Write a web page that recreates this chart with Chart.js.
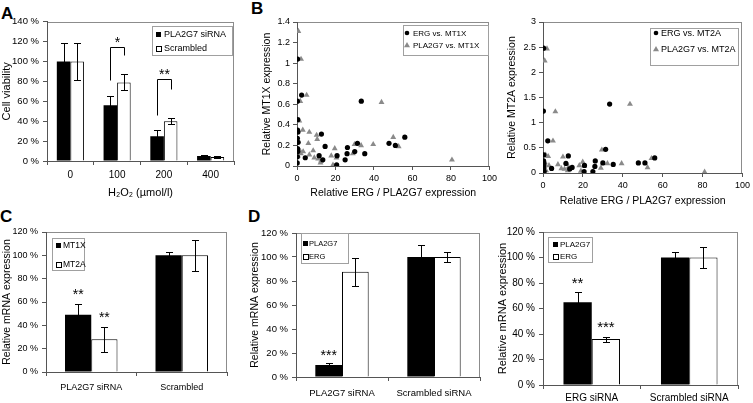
<!DOCTYPE html>
<html>
<head>
<meta charset="utf-8">
<script src="https://cdn.jsdelivr.net/npm/chart.js@4.4.1/dist/chart.umd.min.js"></script>
<style>
  body { margin: 0; background: #fff; width: 753px; height: 403px; position: relative; overflow: hidden;
         font-family: "Liberation Sans", Arial, sans-serif; }
  canvas { position: absolute; }
  .lab { position: absolute; font-weight: bold; font-size: 17px; line-height: 17px; }
</style>
</head>
<body>
<div class="lab" style="left:1px;top:5px">A</div>
<div class="lab" style="left:251px;top:0px">B</div>
<div class="lab" style="left:0px;top:208px">C</div>
<div class="lab" style="left:248px;top:208px">D</div>
<canvas id="chartA"></canvas>
<canvas id="chartB1"></canvas>
<canvas id="chartB2"></canvas>
<canvas id="chartC"></canvas>
<canvas id="chartD1"></canvas>
<canvas id="chartD2"></canvas>
<script>
// ---- data ----
// A: cell viability after H2O2
const doses = ['0', '100', '200', '400'];
const viabSiRNA = [100, 56, 25, 5];
const viabSiRNAErr = [19, 9, 6, 1];
const viabScr = [100, 79, 40, 4];
const viabScrErr = [18.5, 8, 3, 0.8];

// B: scatter, ERG (same samples for both panels) and PLA2G7
const ergX    = [0.3, 0.2, 2.4, 0.4, 0.3, 0.5, 0.2, 0.6, 0.3, 0.4, 0.2, 0.1, 4.3, 12.7, 11.5, 13.4, 14.6, 20.6, 20.8, 25.0, 26.0, 26.2, 30.0, 31.4, 33.4, 35.2, 47.8, 51.1, 56.0];
const ergMT1X = [1.04, 0.63, 0.69, 0.45, 0.35, 0.33, 0.27, 0.23, 0.17, 0.14, 0.09, 0.03, 0.08, 0.31, 0.10, 0.06, 0.19, 0.01, 0.10, 0.06, 0.12, 0.18, 0.14, 0.22, 0.63, 0.12, 0.22, 0.20, 0.28];
const ergMT2A = [2.48, 1.23, 0.64, 0.36, 0.24, 0.17, 0.09, 0.03, 0.20, 0.12, 0.06, 0.00, 0.09, 0.34, 0.19, 0.08, 0.11, 0.03, 0.15, 0.03, 0.13, 0.24, 0.20, 0.47, 1.37, 0.17, 0.20, 0.20, 0.30];

const plaX1   = [0.7, 2.1, 5.0, 1.7, 1.2, 3.0, 6.4, 10.2, 10.5, 5.9, 1.5, 3.2, 8.4, 6.4, 9.0, 12.5, 12.2, 17.8, 19.6, 18.7, 20.5, 29.9, 29.0, 33.3, 39.6, 43.9, 50.0, 52.8, 80.5, 0.5, 2.0, 11.0];
const plaMT1X = [1.31, 1.04, 0.69, 0.63, 0.44, 0.35, 0.33, 0.30, 0.26, 0.22, 0.15, 0.14, 0.15, 0.11, 0.08, 0.05, 0.03, 0.10, 0.17, 0.01, 0.08, 0.21, 0.12, 0.20, 0.21, 0.62, 0.28, 0.19, 0.06, 0.10, 0.12, 0.07];
const plaX2   = [0.85, 2.0, 6.2, 5.0, 1.3, 2.6, 0.9, 10.0, 7.5, 9.2, 10.8, 12.4, 18.2, 19.9, 20.7, 19.0, 29.5, 29.0, 32.3, 39.4, 43.6, 54.4, 52.4, 81.0, 3.0, 1.5, 12.8];
const plaMT2A = [2.23, 2.47, 1.22, 0.64, 0.36, 0.33, 0.22, 0.32, 0.17, 0.09, 0.08, 0.05, 0.15, 0.22, 0.14, 0.04, 0.46, 0.10, 0.19, 0.19, 1.37, 0.29, 0.11, 0.02, 0.15, 0.05, 0.12];

// C: MT1X / MT2A after PLA2G7 knock-down
const groupsC = ['PLA2G7 siRNA', 'Scrambled'];
const mt1xC = [49, 100];
const mt1xErrC = [9, 3];
const mt2aC = [28, 100];
const mt2aErrC = [11, 13.5];

// D: PLA2G7 / ERG knock-downs
const groupsD1 = ['PLA2G7 siRNA', 'Scrambled siRNA'];
const pla2g7D1 = [10, 100];
const pla2g7ErrD1 = [1.7, 10];
const ergD1 = [87.7, 100];
const ergErrD1 = [11.7, 4.5];

const groupsD2 = ['ERG siRNA', 'Scrambled siRNA'];
const pla2g7D2 = [65, 100];
const pla2g7ErrD2 = [8.3, 4];
const ergD2 = [36, 100];
const ergErrD2 = [2, 8.5];

// ---- plugins ----
const FONT = '"Liberation Sans", Arial, sans-serif';
Chart.defaults.font.family = FONT;
Chart.defaults.color = '#000';

// gray box round the plot area (drawn before the axes)
const frame = {
  id: 'frame',
  beforeDraw(chart) {
    const a = chart.chartArea, ctx = chart.ctx;
    ctx.save();
    ctx.strokeStyle = '#8c8c8c';
    ctx.lineWidth = 1;
    ctx.strokeRect(Math.round(a.left) + 0.5, Math.round(a.top) + 0.5, Math.round(a.right - a.left) - 1, Math.round(a.bottom - a.top));
    ctx.restore();
  }
};

const errBars = {
  id: 'errBars',
  afterDatasetsDraw(chart) {
    const ctx = chart.ctx, y = chart.scales.y;
    ctx.save();
    ctx.strokeStyle = '#000';
    ctx.lineWidth = 1;
    chart.data.datasets.forEach((ds, di) => {
      if (!ds.errors) return;
      chart.getDatasetMeta(di).data.forEach((bar, i) => {
        const v = ds.data[i], e = ds.errors[i];
        const x = Math.round(bar.x) + 0.5;
        const t = Math.round(y.getPixelForValue(v + e)) + 0.5;
        const b = Math.round(y.getPixelForValue(v - e)) + 0.5;
        ctx.beginPath();
        ctx.moveTo(x, t); ctx.lineTo(x, b);
        ctx.moveTo(x - 3.5, t); ctx.lineTo(x + 3.5, t);
        ctx.moveTo(x - 3.5, b); ctx.lineTo(x + 3.5, b);
        ctx.stroke();
      });
    });
    ctx.restore();
  }
};

// significance stars and brackets, placed in data units
const marks = {
  id: 'marks',
  afterDatasetsDraw(chart, args, opts) {
    if (!opts.items) return;
    const ctx = chart.ctx, y = chart.scales.y;
    const size = opts.size || 14;
    ctx.save();
    ctx.strokeStyle = '#000';
    ctx.fillStyle = '#000';
    ctx.lineWidth = 1;
    ctx.font = size + 'px ' + FONT;
    ctx.textAlign = 'center';
    ctx.textBaseline = 'alphabetic';
    opts.items.forEach(m => {
      let cx;
      if (m.bracket) {
        const x1 = Math.round(chart.getDatasetMeta(0).data[m.i].x) + 0.5;
        const x2 = Math.round(chart.getDatasetMeta(1).data[m.i].x) + 0.5;
        const [b1, bt, b2] = m.bracket.map(v => Math.round(y.getPixelForValue(v)) + 0.5);
        ctx.beginPath();
        ctx.moveTo(x1, b1); ctx.lineTo(x1, bt); ctx.lineTo(x2, bt); ctx.lineTo(x2, b2);
        ctx.stroke();
        cx = (x1 + x2) / 2;
      } else {
        cx = chart.getDatasetMeta(m.ds).data[m.i].x;
      }
      ctx.fillText(m.text, cx, y.getPixelForValue(m.at) + size * 0.57);
    });
    ctx.restore();
  }
};

// boxed legend like the spreadsheet one; coordinates are page pixels
const boxLegend = {
  id: 'boxLegend',
  afterDraw(chart, args, o) {
    if (!o.items) return;
    const ctx = chart.ctx;
    const ox = parseFloat(chart.canvas.style.left), oy = parseFloat(chart.canvas.style.top);
    const x = o.box[0] - ox, y = o.box[1] - oy, w = o.box[2] - o.box[0], h = o.box[3] - o.box[1];
    ctx.save();
    ctx.fillStyle = '#fff';
    ctx.fillRect(x, y, w, h);
    ctx.strokeStyle = '#a0a0a0';
    ctx.lineWidth = 1;
    ctx.strokeRect(Math.round(x) + 0.5, Math.round(y) + 0.5, Math.round(w), Math.round(h));
    ctx.font = o.size + 'px ' + FONT;
    ctx.textBaseline = 'middle';
    o.items.forEach((it, k) => {
      const cy = o.rows[k] - oy, mx = o.markX - ox;
      ctx.fillStyle = '#000';
      ctx.strokeStyle = '#000';
      if (it.mark === 'fill') {
        ctx.fillRect(Math.round(mx - 2.5), Math.round(cy - 2.5), 5, 5);
      } else if (it.mark === 'empty') {
        ctx.strokeRect(Math.round(mx - 2.5) + 0.5, Math.round(cy - 2.5) + 0.5, 5, 5);
      } else if (it.mark === 'circle') {
        ctx.beginPath(); ctx.arc(mx, cy, 2.3, 0, Math.PI * 2); ctx.fill();
      } else if (it.mark === 'triangle') {
        ctx.fillStyle = '#8a8a8a';
        ctx.beginPath(); ctx.moveTo(mx, cy - 3); ctx.lineTo(mx + 3, cy + 2.3); ctx.lineTo(mx - 3, cy + 2.3); ctx.closePath(); ctx.fill();
      }
      ctx.fillStyle = '#000';
      ctx.fillText(it.label, o.textX - ox, cy + 0.5);
    });
    ctx.restore();
  }
};

Chart.register(frame, errBars, marks, boxLegend);

// ---- helpers ----
function axis(opts) {
  const ax = {
    type: opts.type || 'linear',
    ticks: { autoSkip: false, maxRotation: 0, font: { size: opts.tick }, padding: opts.pad, color: '#000' },
    grid: { display: true, drawOnChartArea: false, drawTicks: true, tickLength: 4, color: '#555' },
    border: { display: true, color: '#555' },
    title: { display: !!opts.title, text: opts.title || '', font: { size: opts.tsize || 10 }, padding: 0, color: '#000' }
  };
  if (opts.min !== undefined) { ax.min = opts.min; ax.max = opts.max; }
  if (opts.step) ax.ticks.stepSize = opts.step;
  if (opts.fmt) ax.ticks.callback = opts.fmt;
  return ax;
}

// box / area are page pixels: [left, top, right, bottom]
function place(id, box, area, cfg) {
  const cv = document.getElementById(id);
  const w = box[2] - box[0], h = box[3] - box[1];
  cv.width = w; cv.height = h;
  cv.style.left = box[0] + 'px'; cv.style.top = box[1] + 'px';
  cv.style.width = w + 'px'; cv.style.height = h + 'px';
  const o = cfg.options;
  o.responsive = false;
  o.animation = false;
  o.devicePixelRatio = 1;
  o.layout = { padding: { left: 0, bottom: 0, top: area[1] - box[1], right: box[2] - area[2] } };
  o.scales.y.afterFit = s => { s.width = area[0] - box[0]; };
  o.scales.x.afterFit = s => { s.height = box[3] - area[3]; };
  o.plugins.legend = { display: false };
  o.plugins.tooltip = { enabled: false };
  return new Chart(cv, cfg);
}

const pct = v => v + ' %';
const dec = v => String(+v.toFixed(1));

function barSet(label, data, errors, black) {
  return {
    label, data, errors,
    backgroundColor: black ? '#000' : '#fff',
    borderColor: '#000', borderWidth: black ? 0 : 1,
    categoryPercentage: 0.58, barPercentage: 1
  };
}

// ---- A ----
place('chartA', [0, 12, 240, 200], [47, 21, 234, 161], {
  type: 'bar',
  data: {
    labels: doses,
    datasets: [
      barSet('PLA2G7 siRNA', viabSiRNA, viabSiRNAErr, true),
      barSet('Scrambled', viabScr, viabScrErr, false)
    ]
  },
  options: {
    scales: {
      x: axis({ type: 'category', tick: 10, pad: 4, title: 'H\u2082O\u2082 (\u00b5mol/l)', tsize: 11 }),
      y: axis({ min: 0, max: 140, step: 20, fmt: pct, tick: 9.5, pad: 4, title: 'Cell viability', tsize: 11 })
    },
    plugins: {
      marks: { size: 14, items: [
        { i: 1, bracket: [81, 115, 107], text: '*', at: 123 },
        { i: 2, bracket: [46, 82, 72], text: '**', at: 90 }
      ] },
      boxLegend: {
        box: [152, 26, 232, 55], rows: [34, 48], markX: 158, textX: 164, size: 9,
        items: [{ mark: 'fill', label: 'PLA2G7 siRNA' }, { mark: 'empty', label: 'Scrambled' }]
      }
    }
  }
});

// ---- B ----
function xy(xs, ys) { return xs.map((x, i) => ({ x, y: ys[i] })); }

function scatterCfg(ergY, plaX, plaY, gene, yMax, yStep, legend) {
  return {
    type: 'scatter',
    data: {
      datasets: [
        { label: 'ERG vs. ' + gene, data: xy(ergX, ergY), pointStyle: 'circle', radius: 2.6,
          backgroundColor: '#000', borderWidth: 0 },
        { label: 'PLA2G7 vs. ' + gene, data: xy(plaX, plaY), pointStyle: 'triangle', radius: 3.4,
          backgroundColor: '#8a8a8a', borderWidth: 0 }
      ]
    },
    options: {
      scales: {
        x: axis({ min: 0, max: 100, step: 20, tick: 9, pad: 3, title: 'Relative ERG / PLA2G7 expression', tsize: 10.5 }),
        y: axis({ min: 0, max: yMax, step: yStep, fmt: dec, tick: 9, pad: 3, title: 'Relative ' + gene + ' expression', tsize: 10.5 })
      },
      plugins: { boxLegend: legend }
    }
  };
}

place('chartB1', [261, 12, 500, 199], [297, 22, 491, 166],
  scatterCfg(ergMT1X, plaX1, plaMT1X, 'MT1X', 1.4, 0.2, {
    box: [403, 25, 488, 55], rows: [33, 45], markX: 407, textX: 413, size: 8,
    items: [{ mark: 'circle', label: 'ERG vs. MT1X' }, { mark: 'triangle', label: 'PLA2G7 vs. MT1X' }]
  }));

place('chartB2', [506, 12, 753, 207], [543, 22, 744, 173],
  scatterCfg(ergMT2A, plaX2, plaMT2A, 'MT2A', 3, 0.5, {
    box: [650, 28, 738, 65], rows: [33, 49], markX: 656, textX: 661, size: 9,
    items: [{ mark: 'circle', label: 'ERG vs. MT2A' }, { mark: 'triangle', label: 'PLA2G7 vs. MT2A' }]
  }));

// ---- C ----
place('chartC', [1, 222, 232, 397], [46, 232, 227, 372], {
  type: 'bar',
  data: {
    labels: groupsC,
    datasets: [
      barSet('MT1X', mt1xC, mt1xErrC, true),
      barSet('MT2A', mt2aC, mt2aErrC, false)
    ]
  },
  options: {
    scales: {
      x: axis({ type: 'category', tick: 9, pad: 6 }),
      y: axis({ min: 0, max: 120, step: 20, fmt: pct, tick: 9, pad: 4, title: 'Relative mRNA expression', tsize: 10.5 })
    },
    plugins: {
      marks: { size: 14, items: [
        { ds: 0, i: 0, text: '**', at: 69 },
        { ds: 1, i: 0, text: '**', at: 49.5 }
      ] },
      boxLegend: {
        box: [52, 238, 84, 270], rows: [245, 264], markX: 58, textX: 63, size: 8.5,
        items: [{ mark: 'fill', label: 'MT1X' }, { mark: 'empty', label: 'MT2A' }]
      }
    }
  }
});

// ---- D ----
place('chartD1', [249, 222, 484, 403], [296, 233, 480, 377], {
  type: 'bar',
  data: {
    labels: groupsD1,
    datasets: [
      barSet('PLA2G7', pla2g7D1, pla2g7ErrD1, true),
      barSet('ERG', ergD1, ergErrD1, false)
    ]
  },
  options: {
    scales: {
      x: axis({ type: 'category', tick: 9.5, pad: 7 }),
      y: axis({ min: 0, max: 120, step: 20, fmt: pct, tick: 9.5, pad: 4, title: 'Relative mRNA expression', tsize: 10.5 })
    },
    plugins: {
      marks: { size: 14, items: [{ ds: 0, i: 0, text: '***', at: 20.6 }] },
      boxLegend: {
        box: [301, 233, 348, 263], rows: [243, 256.5], markX: 305.5, textX: 309, size: 7.5,
        items: [{ mark: 'fill', label: 'PLA2G7' }, { mark: 'empty', label: 'ERG' }]
      }
    }
  }
});

place('chartD2', [496, 222, 753, 403], [543, 232, 738, 385], {
  type: 'bar',
  data: {
    labels: groupsD2,
    datasets: [
      barSet('PLA2G7', pla2g7D2, pla2g7ErrD2, true),
      barSet('ERG', ergD2, ergErrD2, false)
    ]
  },
  options: {
    scales: {
      x: axis({ type: 'category', tick: 10, pad: 3 }),
      y: axis({ min: 0, max: 120, step: 20, fmt: pct, tick: 10, pad: 4, title: 'Relative mRNA expression', tsize: 11 })
    },
    plugins: {
      marks: { size: 15, items: [
        { ds: 0, i: 0, text: '**', at: 82.4 },
        { ds: 1, i: 0, text: '***', at: 48.4 }
      ] },
      boxLegend: {
        box: [548, 237, 592, 262], rows: [244.3, 256.7], markX: 555, textX: 560, size: 8,
        items: [{ mark: 'fill', label: 'PLA2G7' }, { mark: 'empty', label: 'ERG' }]
      }
    }
  }
});
</script>
</body>
</html>
